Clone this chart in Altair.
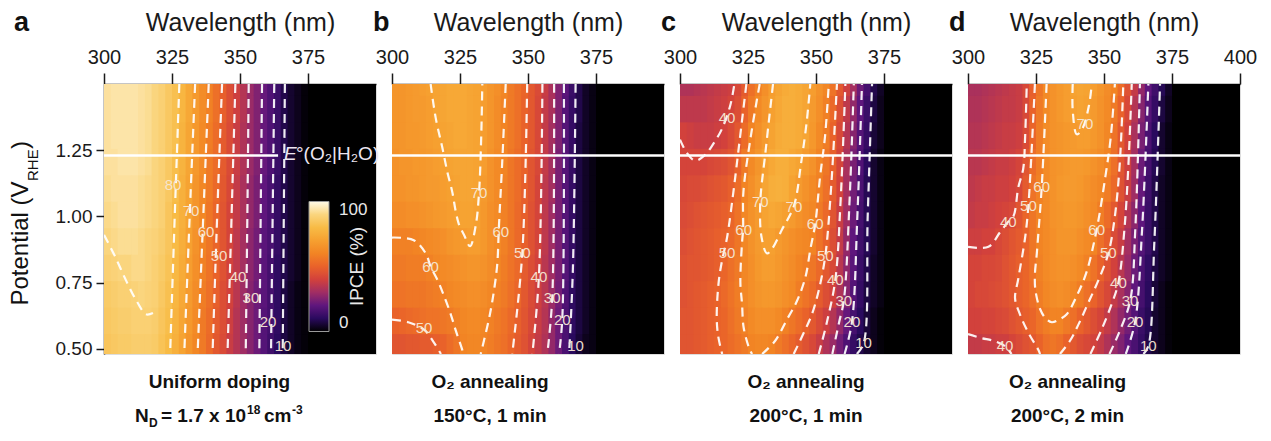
import altair as alt
import pandas as pd

FONT = "Liberation Sans"

# ---------------------------------------------------------------- grid
# 2.5 nm wavelength cells from 300 to 375 nm, then one cell 375-400 nm
WAVELENGTH_EDGES = [300.0, 302.5, 305.0, 307.5, 310.0, 312.5, 315.0, 317.5, 320.0,
                    322.5, 325.0, 327.5, 330.0, 332.5, 335.0, 337.5, 340.0, 342.5,
                    345.0, 347.5, 350.0, 352.5, 355.0, 357.5, 360.0, 362.5, 365.0,
                    367.5, 370.0, 372.5, 375.0, 400.0]
POTENTIAL_ROWS = [1.5, 1.4, 1.3, 1.2, 1.1, 1.0, 0.9, 0.8, 0.7, 0.6, 0.5]
ROW_HALF = 0.05
# cells are drawn a hair wider/taller than the grid so neighbours overlap (no seams)
OVERLAP_WL, OVERLAP_V = 0.35, 0.005

# IPCE (%) per potential row (top to bottom), one value per wavelength cell
IPCE_A = [
    [93, 94, 94, 94, 94, 93, 92, 90, 88, 85, 82, 78, 73, 68, 63, 59, 54, 49, 44, 39, 34, 29, 25, 21, 17, 13, 8, 5, 3, 1, 0],
    [93, 94, 94, 94, 94, 93, 92, 90, 88, 85, 82, 78, 73, 68, 63, 59, 54, 49, 44, 39, 34, 29, 25, 21, 17, 13, 8, 5, 3, 1, 0],
    [93, 94, 94, 94, 94, 93, 92, 90, 88, 85, 82, 77, 72, 67, 62, 58, 53, 48, 43, 38, 33, 29, 25, 21, 17, 13, 8, 5, 3, 1, 0],
    [93, 93, 94, 94, 94, 93, 92, 90, 88, 85, 81, 77, 72, 67, 62, 57, 53, 48, 43, 38, 33, 29, 25, 21, 17, 13, 8, 5, 3, 1, 0],
    [92, 93, 93, 93, 93, 92, 91, 90, 88, 85, 81, 76, 71, 66, 61, 57, 52, 47, 42, 37, 32, 28, 24, 20, 16, 12, 8, 5, 3, 1, 0],
    [91, 92, 93, 93, 93, 92, 91, 90, 88, 84, 80, 76, 71, 66, 61, 56, 51, 46, 41, 37, 32, 28, 24, 20, 16, 12, 8, 5, 3, 1, 0],
    [90, 91, 92, 92, 92, 91, 90, 89, 87, 84, 80, 75, 70, 65, 60, 56, 51, 46, 41, 36, 31, 27, 23, 19, 16, 12, 8, 5, 3, 1, 0],
    [88, 89, 90, 90, 91, 91, 90, 88, 86, 83, 79, 74, 69, 64, 59, 55, 50, 45, 40, 36, 31, 27, 23, 19, 15, 11, 8, 5, 3, 1, 0],
    [86, 87, 88, 88, 89, 90, 89, 88, 85, 82, 78, 73, 68, 63, 58, 54, 49, 44, 40, 35, 30, 26, 22, 19, 15, 11, 7, 4, 2, 1, 0],
    [85, 86, 87, 87, 88, 88, 88, 87, 84, 81, 77, 72, 67, 62, 57, 53, 48, 44, 39, 34, 30, 26, 22, 18, 15, 11, 7, 4, 2, 1, 0],
    [84, 85, 86, 86, 87, 87, 87, 86, 83, 80, 76, 71, 66, 61, 57, 52, 47, 43, 38, 34, 30, 26, 22, 18, 14, 10, 7, 4, 2, 1, 0],
]
IPCE_B = [
    [66, 66, 67, 68, 69, 70, 71, 72, 73, 73, 73, 72, 71, 69, 66, 64, 61, 57, 54, 51, 47, 43, 38, 32, 25, 19, 13, 8, 4, 2, 0],
    [66, 66, 67, 68, 68, 69, 71, 72, 73, 73, 73, 72, 71, 69, 66, 63, 60, 57, 54, 50, 47, 42, 37, 32, 25, 18, 12, 8, 4, 2, 0],
    [66, 66, 67, 67, 68, 69, 70, 71, 72, 73, 73, 72, 71, 69, 66, 63, 60, 57, 54, 50, 47, 42, 37, 31, 25, 18, 12, 7, 4, 2, 0],
    [65, 66, 66, 67, 67, 68, 69, 70, 71, 72, 72, 72, 71, 69, 65, 62, 60, 56, 53, 50, 46, 42, 37, 31, 24, 18, 12, 7, 4, 2, 0],
    [65, 65, 66, 66, 67, 68, 68, 69, 70, 71, 72, 72, 71, 68, 65, 62, 59, 56, 53, 49, 46, 41, 36, 31, 24, 18, 12, 7, 4, 2, 0],
    [63, 63, 64, 64, 65, 66, 67, 68, 69, 70, 71, 71, 70, 67, 64, 62, 59, 56, 52, 49, 45, 41, 36, 30, 24, 18, 12, 7, 4, 2, 0],
    [59, 59, 59, 60, 61, 62, 63, 64, 66, 67, 68, 69, 69, 67, 64, 62, 59, 56, 52, 49, 45, 41, 36, 30, 24, 18, 12, 7, 4, 2, 0],
    [57, 57, 58, 58, 58, 59, 61, 62, 63, 64, 65, 66, 66, 65, 63, 61, 58, 55, 52, 48, 44, 40, 35, 30, 24, 18, 12, 7, 4, 2, 0],
    [55, 55, 56, 56, 56, 57, 58, 59, 61, 62, 63, 64, 64, 63, 61, 59, 57, 54, 51, 47, 43, 39, 35, 29, 23, 17, 11, 7, 4, 2, 0],
    [50, 51, 52, 53, 54, 55, 55, 56, 57, 59, 61, 62, 62, 61, 59, 57, 55, 52, 49, 46, 42, 38, 34, 28, 22, 16, 11, 7, 4, 2, 0],
    [46, 46, 47, 47, 48, 48, 49, 50, 53, 56, 60, 61, 61, 60, 58, 56, 54, 51, 48, 45, 41, 37, 33, 28, 22, 16, 10, 6, 3, 2, 0],
]
IPCE_C = [
    [33, 33, 34, 35, 36, 37, 38, 39, 42, 48, 54, 59, 64, 69, 72, 74, 75, 74, 72, 69, 65, 61, 55, 47, 39, 31, 22, 15, 8, 4, 0],
    [36, 36, 36, 36, 37, 38, 39, 41, 44, 50, 57, 62, 66, 70, 73, 75, 75, 74, 72, 68, 64, 59, 52, 44, 36, 28, 20, 13, 7, 3, 0],
    [40, 39, 38, 38, 38, 39, 40, 43, 47, 53, 60, 64, 68, 71, 74, 75, 75, 74, 72, 67, 62, 58, 50, 42, 34, 26, 18, 12, 6, 3, 0],
    [41, 41, 41, 41, 42, 43, 44, 46, 50, 57, 62, 66, 70, 73, 75, 75, 73, 71, 68, 65, 60, 56, 49, 41, 32, 24, 17, 10, 5, 2, 0],
    [42, 43, 43, 44, 45, 46, 47, 49, 53, 60, 64, 68, 72, 75, 76, 75, 71, 68, 65, 62, 59, 54, 48, 40, 31, 23, 16, 9, 5, 2, 0],
    [43, 44, 45, 46, 47, 48, 49, 51, 55, 61, 65, 68, 71, 73, 72, 70, 68, 65, 63, 61, 57, 52, 46, 38, 30, 22, 15, 9, 5, 2, 0],
    [44, 45, 46, 47, 48, 49, 50, 52, 56, 61, 65, 68, 70, 70, 68, 66, 64, 62, 61, 60, 55, 50, 44, 37, 28, 20, 14, 9, 5, 2, 0],
    [45, 46, 46, 47, 48, 49, 51, 54, 57, 61, 64, 67, 69, 69, 67, 65, 63, 60, 58, 56, 52, 47, 42, 35, 27, 19, 13, 8, 4, 2, 0],
    [45, 46, 47, 48, 49, 50, 52, 55, 58, 61, 64, 66, 67, 67, 66, 64, 62, 58, 55, 52, 48, 44, 40, 33, 26, 18, 12, 7, 4, 2, 0],
    [46, 46, 47, 48, 49, 50, 51, 54, 57, 59, 62, 64, 64, 64, 62, 59, 56, 53, 50, 47, 43, 39, 34, 28, 21, 15, 10, 6, 3, 1, 0],
    [46, 46, 47, 48, 49, 50, 51, 53, 55, 57, 60, 61, 61, 60, 57, 54, 51, 48, 45, 42, 38, 33, 29, 23, 17, 12, 8, 5, 3, 1, 0],
]
IPCE_D = [
    [32, 32, 33, 34, 35, 36, 37, 38, 42, 49, 56, 62, 65, 67, 69, 71, 72, 71, 69, 66, 63, 60, 53, 45, 37, 28, 20, 14, 9, 4, 0],
    [33, 33, 34, 35, 36, 37, 37, 38, 42, 50, 57, 62, 65, 67, 69, 70, 71, 70, 68, 65, 62, 57, 50, 42, 34, 26, 18, 12, 7, 3, 0],
    [34, 34, 35, 36, 37, 38, 38, 39, 43, 51, 58, 63, 65, 66, 67, 68, 69, 69, 67, 65, 61, 55, 47, 40, 32, 24, 16, 10, 5, 2, 0],
    [35, 35, 36, 37, 38, 38, 39, 41, 46, 53, 58, 62, 65, 66, 67, 68, 68, 67, 65, 63, 60, 54, 46, 39, 31, 22, 15, 9, 5, 2, 0],
    [36, 37, 38, 38, 39, 39, 40, 42, 48, 55, 59, 62, 65, 67, 68, 68, 67, 65, 63, 61, 58, 52, 45, 38, 30, 21, 14, 8, 4, 2, 0],
    [37, 38, 38, 39, 40, 41, 42, 46, 51, 56, 60, 62, 65, 66, 67, 67, 66, 64, 62, 58, 53, 47, 41, 34, 27, 20, 13, 8, 4, 2, 0],
    [39, 39, 40, 40, 42, 44, 46, 48, 50, 56, 60, 62, 64, 66, 66, 66, 64, 62, 60, 54, 49, 43, 38, 31, 24, 18, 13, 8, 4, 2, 0],
    [41, 41, 42, 42, 43, 45, 47, 49, 51, 55, 59, 62, 64, 65, 65, 64, 62, 59, 55, 50, 45, 40, 35, 29, 22, 16, 11, 7, 4, 2, 0],
    [41, 42, 42, 43, 44, 45, 47, 49, 51, 54, 58, 61, 63, 64, 63, 61, 58, 54, 50, 46, 42, 37, 32, 26, 20, 15, 10, 6, 3, 1, 0],
    [40, 40, 41, 41, 42, 43, 45, 47, 49, 51, 55, 58, 60, 60, 57, 54, 50, 47, 44, 41, 37, 33, 28, 23, 18, 13, 9, 5, 3, 1, 0],
    [37, 37, 38, 38, 39, 39, 41, 43, 45, 47, 50, 54, 56, 54, 50, 47, 44, 42, 40, 37, 33, 29, 25, 20, 16, 12, 8, 5, 3, 1, 0],
]

# ---------------------------------------------------------------- contours (wavelength nm, potential V)
CONTOURS_A = [
    [(300, 0.93), (304, 0.85), (308, 0.76), (312, 0.68), (315.5, 0.63), (318, 0.635)],
    [(327.7, 1.5), (326.0, 1.0), (324.3, 0.48)],
    [(333.5, 1.5), (331.5, 1.0), (329.5, 0.48)],
    [(338.5, 1.5), (336.5, 1.0), (334.4, 0.48)],
    [(343.4, 1.5), (341.6, 1.0), (339.9, 0.48)],
    [(348.3, 1.5), (346.9, 1.0), (345.4, 0.48)],
    [(353.2, 1.5), (352.7, 1.0), (352.1, 0.48)],
    [(358.1, 1.5), (357.6, 1.0), (357.1, 0.48)],
    [(362.6, 1.5), (362.0, 1.0), (361.4, 0.48)],
    [(366.5, 1.5), (366.1, 1.0), (365.7, 0.48)],
]
LABELS_A = [("80", 325.4, 1.12), ("70", 332.0, 1.02), ("60", 337.5, 0.94), ("50", 342.3, 0.85),
            ("40", 349.3, 0.77), ("30", 354.0, 0.69), ("20", 360.3, 0.60), ("10", 365.8, 0.51)]

CONTOURS_B = [
    [(314.2, 1.5), (316.1, 1.37), (318.5, 1.26), (320.3, 1.17), (322.2, 1.09), (323.4, 1.02),
     (324.6, 0.97), (326.5, 0.93), (328.7, 0.887), (330.8, 0.967), (332.0, 1.09), (332.8, 1.3), (333.2, 1.5)],
    [(300, 0.92), (308, 0.91), (312.4, 0.86), (314.2, 0.81), (316.7, 0.76), (319.1, 0.70),
     (321.6, 0.63), (323.4, 0.57), (325.7, 0.50), (326.3, 0.48)],
    [(341.8, 1.5), (340.5, 1.2), (339.3, 0.96), (338.7, 0.82), (337.5, 0.72), (336.0, 0.63), (333.8, 0.53), (332.6, 0.48)],
    [(300, 0.61), (306, 0.60), (312, 0.57), (315, 0.53), (318, 0.48)],
    [(349.7, 1.5), (347.9, 0.86), (344.2, 0.48)],
    [(355.3, 1.5), (354.0, 0.77), (351.6, 0.48)],
    [(359.6, 1.5), (358.9, 0.69), (357.1, 0.48)],
    [(363.2, 1.5), (362.6, 0.61), (361.4, 0.48)],
    [(367.5, 1.5), (366.5, 0.80), (365.1, 0.48)],
]
LABELS_B = [("70", 332.0, 1.09), ("60", 314.2, 0.81), ("60", 340.0, 0.94), ("50", 311.8, 0.577),
            ("50", 347.9, 0.86), ("40", 354.0, 0.77), ("30", 358.9, 0.69), ("20", 362.6, 0.61),
            ("10", 367.5, 0.51)]

CONTOURS_C = [
    [(300, 1.29), (302.5, 1.24), (305.6, 1.21), (309, 1.23), (312, 1.27), (315.4, 1.33), (318.5, 1.42), (320, 1.5)],
    [(324.4, 1.5), (321.5, 1.25), (319.6, 1.09), (317.3, 0.92), (315.4, 0.83), (314.2, 0.75),
     (313.5, 0.62), (314.0, 0.55), (315.5, 0.48)],
    [(329.3, 1.5), (326.0, 1.3), (323.3, 1.09), (323.2, 0.95), (322.8, 0.9), (322.2, 0.75),
     (322.8, 0.67), (323.4, 0.58), (325.5, 0.5), (326.5, 0.48)],
    [(334.2, 1.5), (331.5, 1.25), (329.5, 1.05), (330.0, 0.92), (332.0, 0.86), (334.0, 0.88),
     (337.5, 0.95), (341.9, 1.04), (344.5, 1.2), (346.5, 1.35), (347.9, 1.5)],
    [(330.2, 0.48), (335.0, 0.53), (339.3, 0.61), (343.0, 0.68), (346.1, 0.77), (348.0, 0.88),
     (349.7, 0.97), (351.5, 1.15), (353.3, 1.3), (354.7, 1.5)],
    [(341.8, 0.48), (345.5, 0.56), (348.5, 0.63), (351.0, 0.72), (353.4, 0.85), (355.5, 1.1), (357.7, 1.5)],
    [(351.0, 0.48), (354.0, 0.6), (357.1, 0.76), (359.0, 1.05), (360.8, 1.5)],
    [(356.0, 0.48), (358.5, 0.6), (360.2, 0.68), (362.3, 1.05), (363.9, 1.5)],
    [(360.5, 0.48), (363.2, 0.60), (365.2, 1.0), (366.9, 1.5)],
    [(365.0, 0.48), (367.5, 0.52), (369.0, 1.0), (370.6, 1.5)],
]
LABELS_C = [("40", 317.3, 1.37), ("60", 323.4, 0.95), ("50", 317.3, 0.86), ("70", 329.5, 1.055),
            ("70", 341.9, 1.036), ("60", 349.7, 0.97), ("50", 353.4, 0.85), ("40", 357.1, 0.76),
            ("30", 360.2, 0.68), ("20", 363.2, 0.60), ("10", 367.5, 0.52)]

CONTOURS_D = [
    [(300, 0.885), (307.5, 0.885), (311.8, 0.94), (314.8, 0.98), (316.7, 1.0), (318.5, 1.11),
     (320.3, 1.18), (321.0, 1.3), (321.6, 1.5)],
    [(300, 0.555), (305, 0.54), (309.3, 0.53), (313.6, 0.51), (316, 0.48)],
    [(324.6, 1.5), (322.2, 1.04), (321.0, 0.92), (318.5, 0.765), (317.3, 0.69), (319.1, 0.63),
     (322.2, 0.56), (325.9, 0.495), (326.5, 0.48)],
    [(328.9, 1.5), (327.1, 1.11), (325.9, 0.94), (325.3, 0.86), (324.6, 0.78), (324.8, 0.72),
     (326.5, 0.65), (328.5, 0.615), (330.8, 0.60), (333.5, 0.61), (336.3, 0.63), (340.0, 0.70),
     (343.6, 0.79), (347.3, 0.95), (350.5, 1.15), (352.5, 1.3), (354.0, 1.5)],
    [(338.5, 1.5), (338.5, 1.4), (340.0, 1.31), (342.0, 1.33), (344.5, 1.42), (345.5, 1.5)],
    [(333.8, 0.48), (337.5, 0.53), (341.0, 0.6), (344.5, 0.68), (348.0, 0.76), (351.6, 0.86),
     (354.0, 1.0), (355.8, 1.2), (357.1, 1.5)],
    [(345.0, 0.48), (349.0, 0.57), (352.5, 0.66), (355.3, 0.75), (357.5, 0.95), (359.0, 1.2), (360.2, 1.5)],
    [(352.0, 0.48), (355.5, 0.56), (359.6, 0.68), (361.5, 0.95), (363.2, 1.5)],
    [(358.0, 0.48), (361.4, 0.60), (364.0, 0.95), (366.3, 1.5)],
    [(364.5, 0.48), (366.3, 0.51), (368.5, 0.9), (370.6, 1.5)],
]
LABELS_D = [("70", 343.0, 1.35), ("60", 327.1, 1.11), ("50", 322.2, 1.04), ("40", 314.8, 0.98),
            ("60", 347.3, 0.95), ("50", 351.6, 0.86), ("40", 355.3, 0.75), ("30", 359.6, 0.68),
            ("20", 361.4, 0.60), ("10", 366.3, 0.51), ("40", 313.6, 0.51)]

# E°(O2|H2O) line and its extent in each panel
E_REDOX = 1.23
E_LINE_END = {"a": 364, "b": 400, "c": 400, "d": 400}

# colour map, IPCE stops 0..100
IPCE_STOPS = [0, 10, 20, 30, 40, 50, 60, 70, 80, 90, 100]
COLORMAP = ["#000000", "#2a0a5e", "#5f167d", "#a02d64", "#d2413c", "#e9622a",
            "#f28424", "#f6a030", "#f8bb45", "#fad57e", "#fffbe8"]

X_DOMAIN = [300, 400]
Y_DOMAIN = [0.48, 1.50]
W, H = 272, 270


def heat_frame(table):
    rows = []
    for v, vals in zip(POTENTIAL_ROWS, table):
        for i, val in enumerate(vals):
            rows.append(dict(wl0=WAVELENGTH_EDGES[i], wl1=WAVELENGTH_EDGES[i + 1] + OVERLAP_WL,
                             v0=v - ROW_HALF, v1=v + ROW_HALF + OVERLAP_V, ipce=val))
    return pd.DataFrame(rows)


def contour_frame(contours):
    rows = []
    for cid, pts in enumerate(contours):
        for k, (wl, v) in enumerate(pts):
            rows.append(dict(cid=cid, k=k, wl=wl, v=v))
    return pd.DataFrame(rows)


def xenc(field, ticks):
    return alt.X(field, type="quantitative",
                 scale=alt.Scale(domain=X_DOMAIN, nice=False, zero=False),
                 axis=alt.Axis(orient="top", values=ticks, title="Wavelength (nm)",
                               titleFontSize=25, titleFontWeight="normal", titleFont=FONT,
                               titleColor="#1a1a1a", titlePadding=12,
                               labelFontSize=20, labelFont=FONT, labelColor="#1a1a1a",
                               labelFlush=False, labelPadding=6,
                               tickSize=11, tickWidth=1.5, tickColor="#1a1a1a",
                               domainColor="#1a1a1a", domainWidth=1.5, grid=False))


def yenc(field, show):
    scale = alt.Scale(domain=Y_DOMAIN, nice=False, zero=False)
    if show:
        return alt.Y(field, type="quantitative", scale=scale,
                     axis=alt.Axis(values=[0.5, 0.75, 1.0, 1.25], format=".2f", title=None,
                                   labelFontSize=19, labelFont=FONT, labelColor="#1a1a1a",
                                   labelPadding=4, tickSize=8, tickWidth=1.5, tickColor="#1a1a1a",
                                   domainColor="#1a1a1a", domainWidth=1.5, grid=False))
    return alt.Y(field, type="quantitative", scale=scale, axis=None)


def text_piece(text, x, y, size, weight="normal", align="left", angle=0,
               color="#111111", style="normal", baseline="alphabetic"):
    return alt.Chart(pd.DataFrame({"t": [text]})).mark_text(
        align=align, baseline=baseline, fontSize=size, fontWeight=weight, font=FONT,
        color=color, angle=angle, fontStyle=style
    ).encode(x=alt.value(x), y=alt.value(y), text="t:N")


def panel(key, table, contours, labels, ticks, show_y, legend, extra):
    color_scale = alt.Scale(domain=IPCE_STOPS, range=COLORMAP, interpolate="rgb")
    heat = alt.Chart(heat_frame(table)).mark_rect(clip=True).encode(
        x=xenc("wl0", ticks), x2="wl1",
        y=yenc("v0", show_y), y2="v1",
        color=alt.Color("ipce:Q", scale=color_scale, legend=legend, title=None),
    )
    lines = alt.Chart(contour_frame(contours)).mark_line(
        color="white", strokeWidth=2.2, strokeDash=[9, 6], opacity=0.92,
        interpolate="catmull-rom", clip=True
    ).encode(x=xenc("wl", ticks), y=yenc("v", show_y), detail="cid:N", order="k:Q")
    lab = alt.Chart(pd.DataFrame(labels, columns=["t", "wl", "v"])).mark_text(
        fontSize=15, font=FONT, color="#f6e7d4", opacity=0.95
    ).encode(x=xenc("wl", ticks), y=yenc("v", show_y), text="t:N")
    eline = alt.Chart(pd.DataFrame({"x0": [300], "x1": [E_LINE_END[key]], "v": [E_REDOX]})).mark_rule(
        color="white", strokeWidth=2.6
    ).encode(x=xenc("x0", ticks), x2="x1", y=yenc("v", show_y))
    layers = [heat, lines, eline, lab] + extra
    return alt.layer(*layers).properties(width=W, height=H)


BOTTOM_Y1, BOTTOM_Y2 = 303.5, 337.5

extra_a = [
    text_piece("a", -90, -53.5, 27, weight="bold"),
    text_piece("Uniform doping", 115.5, BOTTOM_Y1, 19, weight="bold", align="center"),
    text_piece("N", 31, BOTTOM_Y2, 19, weight="bold"),
    text_piece("D", 45, BOTTOM_Y2 + 5, 12, weight="bold"),
    text_piece("= 1.7 x 10", 57, BOTTOM_Y2, 19, weight="bold"),
    text_piece("18", 143, BOTTOM_Y2 - 8, 12, weight="bold"),
    text_piece("cm", 160, BOTTOM_Y2, 19, weight="bold"),
    text_piece("-3", 188, BOTTOM_Y2 - 8, 12, weight="bold"),
    text_piece("Potential (V", -83, 221.5, 24, angle=270, baseline="middle"),
    text_piece("RHE", -71, 97, 15, angle=270, baseline="middle"),
    text_piece(")", -83, 65, 24, angle=270, baseline="middle"),
    text_piece("E", 180, 76, 19, style="italic", color="#ece6f2"),
    text_piece("°(O₂|H₂O)", 192, 76, 19, color="#ece6f2"),
    text_piece("IPCE (%)", 253, 182.5, 19, angle=270, align="center", baseline="middle", color="#e8e8e8"),
]
extra_b = [
    text_piece("b", -19, -53.5, 27, weight="bold"),
    text_piece("O₂ annealing", 98, BOTTOM_Y1, 19, weight="bold", align="center"),
    text_piece("150°C, 1 min", 98, BOTTOM_Y2, 19, weight="bold", align="center"),
]
extra_c = [
    text_piece("c", -19, -53.5, 27, weight="bold"),
    text_piece("O₂ annealing", 126, BOTTOM_Y1, 19, weight="bold", align="center"),
    text_piece("200°C, 1 min", 126, BOTTOM_Y2, 19, weight="bold", align="center"),
]
extra_d = [
    text_piece("d", -19, -53.5, 27, weight="bold"),
    text_piece("O₂ annealing", 99.5, BOTTOM_Y1, 19, weight="bold", align="center"),
    text_piece("200°C, 2 min", 99.5, BOTTOM_Y2, 19, weight="bold", align="center"),
]

colorbar = alt.Legend(type="gradient", orient="none", legendX=205, legendY=117.5, direction="vertical",
                      gradientLength=130, gradientThickness=20, values=[0, 100],
                      labelColor="#e8e8e8", labelFontSize=17, labelFont=FONT, labelOffset=10,
                      gradientStrokeColor="#9a9a9a", gradientStrokeWidth=1, padding=0)

TICKS = [300, 325, 350, 375]
pa = panel("a", IPCE_A, CONTOURS_A, LABELS_A, TICKS, True, colorbar, extra_a)
pb = panel("b", IPCE_B, CONTOURS_B, LABELS_B, TICKS, False, None, extra_b)
pc = panel("c", IPCE_C, CONTOURS_C, LABELS_C, TICKS, False, None, extra_c)
pd_ = panel("d", IPCE_D, CONTOURS_D, LABELS_D, TICKS + [400], False, None, extra_d)

chart = alt.hconcat(pa, pb, pc, pd_, spacing=16, bounds="flush").resolve_scale(
    color="independent"
).properties(
    padding={"left": 8, "top": 8, "right": 5, "bottom": 5}
).configure_view(stroke="#1a1a1a", strokeWidth=1.2).configure(font=FONT)

chart.save("out.html", embed_options={"renderer": "svg", "actions": False})
